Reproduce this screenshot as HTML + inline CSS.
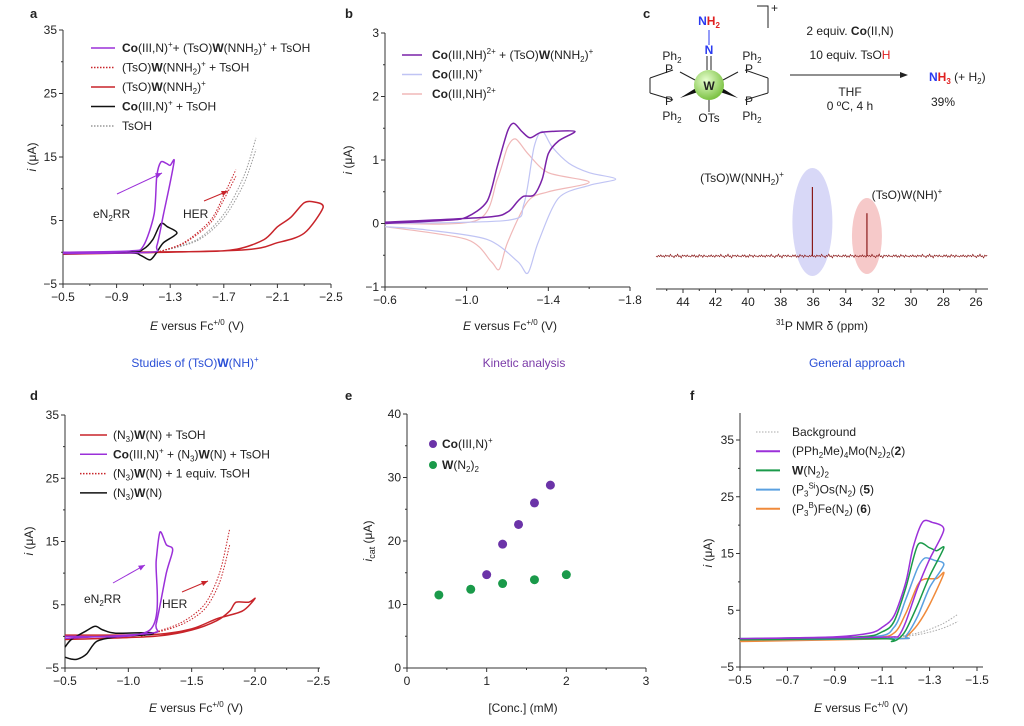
<!DOCTYPE html>
<html><head><meta charset="utf-8"><style>
body{margin:0;background:#fff}
svg{display:block;font-family:"Liberation Sans",sans-serif}
text{fill:#222}
.t{font-size:12px}
.lg{font-size:12px}
.pl{font-size:13px;font-weight:bold}
</style></head><body>
<svg id="fig" width="1024" height="726" viewBox="0 0 1024 726"></svg>
<script>
// ===== data arrays =====
const aPurpleE=[-0.5,-1.0,-1.1,-1.18,-1.2,-1.23,-1.27,-1.3,-1.33,-1.3,-1.25,-1.2,-1.15,-0.5];
const aPurpleI=[0,0.2,1,6,12,14.2,14,13.7,14.5,11,6,1,0,-0.2];
const aBlackE=[-0.5,-1.0,-1.1,-1.17,-1.23,-1.28,-1.35,-1.25,-1.2,-1.15,-1.08,-1.0,-0.5];
const aBlackI=[0,0,0.5,2,4.5,4,3,1.5,0,-1.2,-0.5,-0.1,-0.2];
const aRedE=[-0.5,-1.5,-1.8,-2.0,-2.1,-2.2,-2.3,-2.38,-2.44,-2.3,-2.1,-1.8,-0.5];
const aRedI=[0,0.1,0.5,2,4,5.5,7.8,7.9,7,3,1.5,0.3,-0.3];
const aHerE=[-1.2,-1.4,-1.6,-1.7,-1.79];
const aHerI=[0,1.5,5,9,13];
const aTsE=[-1.2,-1.5,-1.7,-1.85,-1.94];
const aTsI=[0,2,6,12,18];
const bPurpleE=[-0.6,-0.9,-1.0,-1.1,-1.15,-1.2,-1.23,-1.27,-1.31,-1.36,-1.42,-1.53,-1.45,-1.4,-1.37,-1.33,-1.28,-1.25,-1.2,-1.1,-0.6];
const bPurpleI=[0,0.05,0.1,0.35,0.9,1.45,1.58,1.45,1.35,1.43,1.45,1.45,1.3,1.1,0.7,0.45,0.43,0.35,0.18,0.1,0.02];
const bBlueE=[-0.6,-1.2,-1.28,-1.33,-1.37,-1.42,-1.5,-1.6,-1.73,-1.6,-1.45,-1.35,-1.3,-1.25,-1.1,-0.8,-0.6];
const bBlueI=[0,0.05,0.3,1.2,1.45,1.2,0.95,0.8,0.7,0.6,0.4,-0.3,-0.78,-0.6,-0.25,-0.1,-0.05];
const bPinkE=[-0.6,-1.05,-1.15,-1.2,-1.24,-1.3,-1.4,-1.6,-1.4,-1.3,-1.2,-1.16,-1.12,-1.0,-0.6];
const bPinkI=[0,0.05,0.7,1.2,1.33,1.1,0.8,0.65,0.5,0.35,-0.3,-0.72,-0.6,-0.25,-0.05];
const nmrPeakPpm=[36.05,32.7];
const nmrPeakH=[1.0,0.62];
const dPurpleE=[-0.5,-1.17,-1.22,-1.25,-1.3,-1.35,-1.3,-1.22,-1.18,-0.5];
const dPurpleI=[0,1,12,16.5,14.5,13.7,10,2,0.5,-0.3];
const dBlackE=[-0.5,-0.55,-0.6,-0.67,-0.75,-0.9,-1.17,-1.17,-0.9,-0.8,-0.74,-0.67,-0.55,-0.5];
const dBlackI=[-3.3,-3.6,-3.6,-2.8,-0.8,-0.1,0.3,0.6,0.5,1.0,1.6,0.9,-0.5,-1.7];
const dRedE=[-0.5,-1.2,-1.5,-1.7,-1.8,-1.85,-1.95,-2.0,-1.9,-1.7,-1.5,-1.2,-0.5];
const dRedI=[-0.5,0,1,2.5,4,5.4,5.4,6,4,2.8,1.2,0.3,0.2];
const dHerE=[-1.1,-1.4,-1.6,-1.72,-1.8];
const dHerI=[0,2,5,10,17];
const eCoConc=[1.0,1.2,1.4,1.6,1.8];
const eCoI=[14.7,19.5,22.6,26.0,28.8];
const eWConc=[0.4,0.8,1.2,1.6,2.0];
const eWI=[11.5,12.4,13.3,13.9,14.7];
const fPurpleE=[-0.5,-0.9,-1.05,-1.1,-1.15,-1.2,-1.23,-1.27,-1.31,-1.36,-1.3,-1.25,-1.2,-1.17,-1.15,-1.0,-0.5];
const fPurpleI=[0,0.3,1,2,4,10,16,20.5,20.5,19.2,14,9,3,0.5,0.3,0.2,0];
const fGreenE=[-0.5,-1.0,-1.1,-1.15,-1.2,-1.25,-1.3,-1.33,-1.36,-1.3,-1.25,-1.2,-1.17,-1.14,-1.1,-0.5];
const fGreenI=[0,0.3,1.2,3,9,16.5,16,15.5,16,11,6,1.5,0,-0.5,0,-0.2];
const fBlueE=[-0.5,-1.05,-1.15,-1.2,-1.25,-1.28,-1.32,-1.36,-1.3,-1.25,-1.2,-1.16,-0.5];
const fBlueI=[0,0.3,2,7,12.5,14.2,13.8,13,9,4,0.5,0,-0.2];
const fOrangeE=[-0.5,-1.05,-1.15,-1.2,-1.25,-1.28,-1.33,-1.36,-1.3,-1.25,-1.2,-1.16,-0.5];
const fOrangeI=[-0.3,0.2,1,4.5,9.5,10.5,10.6,11.5,6,2.5,0.3,0,-0.5];
const fBgE=[-1.1,-1.25,-1.35,-1.42];
const fBgI=[0,1,2.5,4.3];

const NS="http://www.w3.org/2000/svg";
const svg=document.getElementById('fig');
function el(tag,attrs,parent){const e=document.createElementNS(NS,tag);for(const k in attrs)e.setAttribute(k,attrs[k]);(parent||svg).appendChild(e);return e;}
function txt(x,y,html,cls,anchor,extra){const t=el('text',Object.assign({x:x,y:y,class:cls||'t','text-anchor':anchor||'start'},extra||{}));t.innerHTML=html;return t;}
function lin(x0,x1,d0,d1){return v=>x0+(v-d0)*(x1-x0)/(d1-d0);}
function curve(xs,ys,X,Y,stroke,w,dash,name){
 const P=xs.map((v,i)=>[X(v),Y(ys[i])]);const n=P.length;
 let d='M'+P[0][0].toFixed(1)+','+P[0][1].toFixed(1);
 for(let i=0;i<n-1;i++){const p0=P[Math.max(i-1,0)],p1=P[i],p2=P[i+1],p3=P[Math.min(i+2,n-1)];
  const c1=[p1[0]+(p2[0]-p0[0])/7,p1[1]+(p2[1]-p0[1])/7],c2=[p2[0]-(p3[0]-p1[0])/7,p2[1]-(p3[1]-p1[1])/7];
  d+='C'+c1.map(v=>v.toFixed(1)).join(',')+' '+c2.map(v=>v.toFixed(1)).join(',')+' '+p2[0].toFixed(1)+','+p2[1].toFixed(1);}
 const p=el('path',{d:d,fill:'none',stroke:stroke,'stroke-width':w,'stroke-dasharray':dash||'none','stroke-linejoin':'round'});
 
 return p;}
function axes(X,Y,xt,xl,yt,yl,x0,y0,xEnd,yTop,minor){
 el('line',{x1:x0,y1:y0,x2:x0,y2:yTop,stroke:'#333','stroke-width':1});
 el('line',{x1:x0,y1:y0,x2:xEnd,y2:y0,stroke:'#333','stroke-width':1});
 xt.forEach((v,i)=>{el('line',{x1:X(v),y1:y0,x2:X(v),y2:y0+4,stroke:'#333'});const t=txt(X(v),y0+17,xl[i],'t','middle');});
 yt.forEach((v,i)=>{el('line',{x1:x0,y1:Y(v),x2:x0-4,y2:Y(v),stroke:'#333'});const t=txt(x0-6,Y(v)+4,yl[i],'t','end');});
 if(minor){minor.x.forEach(v=>el('line',{x1:X(v),y1:y0,x2:X(v),y2:y0+2,stroke:'#333'}));minor.y.forEach(v=>el('line',{x1:x0,y1:Y(v),x2:x0-2,y2:Y(v),stroke:'#333'}));}
}
function legLine(x1,x2,y,stroke,dash,w){el('line',{x1:x1,y1:y,x2:x2,y2:y,stroke:stroke,'stroke-width':w||1.5,'stroke-dasharray':dash||'none'});}
function arrow(x1,y1,x2,y2,c){el('line',{x1:x1,y1:y1,x2:x2,y2:y2,stroke:c,'stroke-width':1});const a=Math.atan2(y2-y1,x2-x1);
 el('path',{d:`M${x2},${y2}L${x2-7*Math.cos(a-0.4)},${y2-7*Math.sin(a-0.4)}L${x2-7*Math.cos(a+0.4)},${y2-7*Math.sin(a+0.4)}Z`,fill:c});}
const PUR='#9b30d9',RED='#c8242a',BLK='#111';

// ===== Panel a =====
{const X=lin(63,331,-0.5,-2.5),Y=lin(284,30,-5,35);
 txt(30,18,'a','pl');
 axes(X,Y,[-0.5,-0.9,-1.3,-1.7,-2.1,-2.5],['−0.5','−0.9','−1.3','−1.7','−2.1','−2.5'],[-5,5,15,25,35],['−5','5','15','25','35'],63,284,331,30,{x:[-0.7,-1.1,-1.5,-1.9,-2.3],y:[0,10,20,30]});
 txt(197,330,'<tspan font-style="italic">E</tspan> versus Fc<tspan font-size="8" dy="-5">+/0</tspan><tspan dy="5"> (V)</tspan>','t','middle');
 txt(36,157,'<tspan font-style="italic">i</tspan> (μA)','t','middle',{transform:'rotate(-90 36 157)'});
 curve(aTsE,aTsI,X,Y,'#999',1,'1.5,1.5','tsoh-curve');
 curve(aTsE,aTsI.map(v=>v*0.9),X,Y,'#999',1,'1.5,1.5','tsoh-curve-2');
 curve(aHerE,aHerI,X,Y,RED,1,'1.5,1.5','her-curve');
 curve(aHerE,aHerI.map(v=>v*0.92),X,Y,RED,1,'1.5,1.5','her-curve-2');
 curve(aRedE,aRedI,X,Y,RED,1.5,null,'w-nnh2-curve');
 curve(aBlackE,aBlackI,X,Y,BLK,1.5,null,'co-tsoh-curve');
 curve(aPurpleE,aPurpleI,X,Y,PUR,1.5,null,'co-w-tsoh-curve');
 arrow(117,194,162,173,PUR);arrow(204,201,228,191,RED);
 txt(93,218,'eN<tspan font-size="8" dy="3">2</tspan><tspan dy="-3">RR</tspan>');txt(183,218,'HER');
 const L=[[PUR,null,'<tspan font-weight="bold">Co</tspan>(III,N)<tspan font-size="8" dy="-5">+</tspan><tspan dy="5">+ (TsO)</tspan><tspan font-weight="bold">W</tspan>(NNH<tspan font-size="8" dy="3">2</tspan><tspan dy="-3">)</tspan><tspan font-size="8" dy="-5">+</tspan><tspan dy="5"> + TsOH</tspan>'],
 [RED,'1.5,1.5','(TsO)<tspan font-weight="bold">W</tspan>(NNH<tspan font-size="8" dy="3">2</tspan><tspan dy="-3">)</tspan><tspan font-size="8" dy="-5">+</tspan><tspan dy="5"> + TsOH</tspan>'],
 [RED,null,'(TsO)<tspan font-weight="bold">W</tspan>(NNH<tspan font-size="8" dy="3">2</tspan><tspan dy="-3">)</tspan><tspan font-size="8" dy="-5">+</tspan>'],
 [BLK,null,'<tspan font-weight="bold">Co</tspan>(III,N)<tspan font-size="8" dy="-5">+</tspan><tspan dy="5"> + TsOH</tspan>'],
 ['#999','1.5,1.5','TsOH']];
 L.forEach((l,i)=>{const y=48+i*19.5;legLine(91,115,y,l[0],l[1]);const t=txt(122,y+4,l[2],'lg');});
 txt(195,367,'Studies of (TsO)<tspan font-weight="bold">W</tspan>(NH)<tspan font-size="8" dy="-5">+</tspan>','t','middle',{style:'fill:#2a4fd6'});
}
// ===== Panel b =====
{const X=lin(385,630,-0.6,-1.8),Y=lin(287,33,-1,3);
 txt(345,18,'b','pl');
 axes(X,Y,[-0.6,-1.0,-1.4,-1.8],['−0.6','−1.0','−1.4','−1.8'],[-1,0,1,2,3],['−1','0','1','2','3'],385,287,630,33,{x:[-0.8,-1.2,-1.6],y:[-0.5,0.5,1.5,2.5]});
 txt(510,330,'<tspan font-style="italic">E</tspan> versus Fc<tspan font-size="8" dy="-5">+/0</tspan><tspan dy="5"> (V)</tspan>','t','middle');
 txt(352,160,'<tspan font-style="italic">i</tspan> (μA)','t','middle',{transform:'rotate(-90 352 160)'});
 curve(bPinkE,bPinkI,X,Y,'#f0b8b8',1.2,null,'co-nh-curve');
 curve(bBlueE,bBlueI,X,Y,'#c0c4f4',1.2,null,'co-n-curve');
 curve(bPurpleE,bPurpleI,X,Y,'#7a22a8',1.5,null,'co-nh-w-curve');
 const L=[['#7a22a8','<tspan font-weight="bold">Co</tspan>(III,NH)<tspan font-size="8" dy="-5">2+</tspan><tspan dy="5"> + (TsO)</tspan><tspan font-weight="bold">W</tspan>(NNH<tspan font-size="8" dy="3">2</tspan><tspan dy="-3">)</tspan><tspan font-size="8" dy="-5">+</tspan>'],
 ['#c0c4f4','<tspan font-weight="bold">Co</tspan>(III,N)<tspan font-size="8" dy="-5">+</tspan>'],
 ['#f0b8b8','<tspan font-weight="bold">Co</tspan>(III,NH)<tspan font-size="8" dy="-5">2+</tspan>']];
 L.forEach((l,i)=>{const y=55+i*19.5;legLine(402,422,y,l[0]);const t=txt(432,y+4,l[1],'lg');});
 txt(524,367,'Kinetic analysis','t','middle',{style:'fill:#7a3aa8'});
}
// ===== Panel c =====
{txt(643,18,'c','pl');
 const g=el('g',{});
 const ln=(a,b,c,d,col,w)=>el('line',{x1:a,y1:b,x2:c,y2:d,stroke:col||'#222','stroke-width':w||1},g);
 ln(709,30,709,45,'#2a3af0');ln(707,56,707,70);ln(711,56,711,70);
 ln(709,100,709,112);
 ln(673,70,650,78);ln(650,78,650,93);ln(650,93,673,100);
 ln(745,70,768,78);ln(768,78,768,93);ln(768,93,745,100);
 el('path',{d:'M680,98 L696,88 L698,92 Z',fill:'#111'},g);el('path',{d:'M738,98 L722,88 L720,92 Z',fill:'#111'},g);
 ln(680,72,695,80,'#222',1);ln(738,72,723,80,'#222',1);
 const rg=el('radialGradient',{id:'wg',cx:'40%',cy:'35%',r:'65%'});el('stop',{offset:'0','stop-color':'#e8ffd0'},rg);el('stop',{offset:'1','stop-color':'#7cc243'},rg);
 el('circle',{cx:709,cy:85,r:15,fill:'url(#wg)'},g);
 txt(709,90,'W','t','middle',{'font-weight':'bold','font-size':'11'});
 txt(709,25,'<tspan style="fill:#2a3af0">N</tspan><tspan style="fill:#e02020">H<tspan font-size="8" dy="3">2</tspan></tspan>','t','middle',{'font-weight':'bold','font-size':'11'});
 txt(709,54,'N','t','middle',{'font-weight':'bold','font-size':'11',style:'fill:#2a3af0'});
 txt(673,73,'P','t','end',{'font-size':'11'});txt(745,73,'P','t','start',{'font-size':'11'});
 txt(673,105,'P','t','end',{'font-size':'11'});txt(745,105,'P','t','start',{'font-size':'11'});
 [[672,60],[752,60],[672,120],[752,120]].forEach(p=>txt(p[0],p[1],'Ph<tspan font-size="8" dy="3">2</tspan>','t','middle',{'font-size':'11'}));
 txt(709,122,'OTs','t','middle',{'font-size':'11'});
 el('path',{d:'M757,6 L768,6 L768,28',fill:'none',stroke:'#222'});txt(771,12,'+','t','start',{'font-size':'9'});
 txt(850,35,'2 equiv. <tspan font-weight="bold">Co</tspan>(II,N)','t','middle');
 txt(850,59,'10 equiv. TsO<tspan style="fill:#e02020">H</tspan>','t','middle');
 el('line',{x1:790,y1:75,x2:905,y2:75,stroke:'#222'});el('path',{d:'M908,75 L900,72 L900,78 Z',fill:'#222'});
 txt(850,96,'THF','t','middle');txt(850,110,'0 ºC, 4 h','t','middle');
 txt(929,81,'<tspan font-weight="bold" style="fill:#2a3af0">N</tspan><tspan font-weight="bold" style="fill:#e02020">H<tspan font-size="8" dy="3">3</tspan></tspan><tspan dy="-3"> (+ H</tspan><tspan font-size="8" dy="3">2</tspan><tspan dy="-3">)</tspan>');
 txt(931,106,'39%');
 const X=lin(683,976,44,26),base=256;
 el('ellipse',{cx:X(36.05),cy:222,rx:20,ry:54,fill:'#c8c8f4','fill-opacity':0.7});
 el('ellipse',{cx:X(32.7),cy:236,rx:15,ry:38,fill:'#f4bcbc','fill-opacity':0.8});
 const jit=[0,1.2,-0.8,0.5,-1.4,0.9,-0.3,1.5,-1.1,0.2,-0.6,1.0,-1.3,0.4];
 let d='M656,'+base;let k=0;for(let x=656;x<=988;x+=1.2){d+='L'+x.toFixed(1)+','+(base+jit[k%14]*(k%3===0?1.3:0.8)).toFixed(1);k++;}
 const nz=el('path',{d:d,fill:'none',stroke:'#8a1a1a','stroke-width':0.7});
 nmrPeakPpm.forEach((p,i)=>{const l=el('line',{x1:X(p),y1:base,x2:X(p),y2:base-nmrPeakH[i]*69,stroke:'#8a1a1a','stroke-width':1.2});});
 txt(742,182,'(TsO)W(NNH<tspan font-size="8" dy="3">2</tspan><tspan dy="-3">)</tspan><tspan font-size="8" dy="-5">+</tspan>','t','middle');
 txt(907,199,'(TsO)W(NH)<tspan font-size="8" dy="-5">+</tspan>','t','middle');
 el('line',{x1:656,y1:289,x2:988,y2:289,stroke:'#333'});
 [44,42,40,38,36,34,32,30,28,26].forEach(v=>{el('line',{x1:X(v),y1:289,x2:X(v),y2:293,stroke:'#333'});const t=txt(X(v),306,v,'t','middle');});
 [45,43,41,39,37,35,33,31,29,27].forEach(v=>el('line',{x1:X(v),y1:289,x2:X(v),y2:291,stroke:'#333'}));
 txt(822,330,'<tspan font-size="8" dy="-5">31</tspan><tspan dy="5">P NMR δ (ppm)</tspan>','t','middle');
 txt(857,367,'General approach','t','middle',{style:'fill:#2a4fd6'});
}
// ===== Panel d =====
{const X=lin(65,255,-0.5,-2.0),Y=lin(668,415,-5,35);
 txt(30,400,'d','pl');
 axes(X,Y,[-0.5,-1.0,-1.5,-2.0,-2.5],['−0.5','−1.0','−1.5','−2.0','−2.5'],[-5,5,15,25,35],['−5','5','15','25','35'],65,668,320,415,{x:[-0.75,-1.25,-1.75,-2.25],y:[0,10,20,30]});
 txt(196,712,'<tspan font-style="italic">E</tspan> versus Fc<tspan font-size="8" dy="-5">+/0</tspan><tspan dy="5"> (V)</tspan>','t','middle');
 txt(33,541,'<tspan font-style="italic">i</tspan> (μA)','t','middle',{transform:'rotate(-90 33 541)'});
 curve(dHerE,dHerI,X,Y,RED,1,'1.5,1.5','her-curve');
 curve(dHerE,dHerI.map(v=>v*0.85),X,Y,RED,1,'1.5,1.5','her-curve-2');
 curve(dRedE,dRedI,X,Y,RED,1.5,null,'w-tsoh-curve');
 curve(dBlackE,dBlackI,X,Y,BLK,1.5,null,'w-n-curve');
 curve(dPurpleE,dPurpleI,X,Y,PUR,1.5,null,'co-w-tsoh-curve');
 arrow(113,583,145,565,PUR);arrow(182,592,208,581,RED);
 txt(84,603,'eN<tspan font-size="8" dy="3">2</tspan><tspan dy="-3">RR</tspan>');txt(162,608,'HER');
 const L=[[RED,null,'(N<tspan font-size="8" dy="3">3</tspan><tspan dy="-3">)</tspan><tspan font-weight="bold">W</tspan>(N) + TsOH'],
 [PUR,null,'<tspan font-weight="bold">Co</tspan>(III,N)<tspan font-size="8" dy="-5">+</tspan><tspan dy="5"> + (N</tspan><tspan font-size="8" dy="3">3</tspan><tspan dy="-3">)</tspan><tspan font-weight="bold">W</tspan>(N) + TsOH'],
 [RED,'1.5,1.5','(N<tspan font-size="8" dy="3">3</tspan><tspan dy="-3">)</tspan><tspan font-weight="bold">W</tspan>(N) + 1 equiv. TsOH'],
 [BLK,null,'(N<tspan font-size="8" dy="3">3</tspan><tspan dy="-3">)</tspan><tspan font-weight="bold">W</tspan>(N)']];
 L.forEach((l,i)=>{const y=435+i*19.3;legLine(80,107,y,l[0],l[1]);const t=txt(113,y+4,l[2],'lg');});
}
// ===== Panel e =====
{const X=lin(407,646,0,3),Y=lin(668,414,0,40);
 txt(345,400,'e','pl');
 axes(X,Y,[0,1,2,3],['0','1','2','3'],[0,10,20,30,40],['0','10','20','30','40'],407,668,646,414,{x:[0.5,1.5,2.5],y:[5,15,25,35]});
 txt(523,712,'[Conc.] (mM)','t','middle');
 txt(372,541,'<tspan font-style="italic">i</tspan><tspan font-size="9" dy="3">cat</tspan><tspan dy="-3"> (μA)</tspan>','t','middle',{transform:'rotate(-90 372 541)'});
 eCoConc.forEach((c,i)=>{const p=el('circle',{cx:X(c),cy:Y(eCoI[i]),r:4.5,fill:'#6b33a8'});});
 eWConc.forEach((c,i)=>{const p=el('circle',{cx:X(c),cy:Y(eWI[i]),r:4.5,fill:'#1a9a4a'});});
 el('circle',{cx:433,cy:444,r:4,fill:'#6b33a8'});el('circle',{cx:433,cy:465,r:4,fill:'#1a9a4a'});
 txt(442,448,'<tspan font-weight="bold">Co</tspan>(III,N)<tspan font-size="8" dy="-5">+</tspan>','lg');
 txt(442,469,'<tspan font-weight="bold">W</tspan>(N<tspan font-size="8" dy="3">2</tspan><tspan dy="-3">)</tspan><tspan font-size="8" dy="3">2</tspan>','lg');
}
// ===== Panel f =====
{const X=lin(740,977,-0.5,-1.5),Y=lin(667,440,-5,35);
 txt(690,400,'f','pl');
 el('line',{x1:740,y1:667,x2:740,y2:413,stroke:'#333'});
 axes(X,Y,[-0.5,-0.7,-0.9,-1.1,-1.3,-1.5],['−0.5','−0.7','−0.9','−1.1','−1.3','−1.5'],[-5,5,15,25,35],['−5','5','15','25','35'],740,667,983,413,{x:[-0.6,-0.8,-1.0,-1.2,-1.4],y:[0,10,20,30]});
 txt(861,712,'<tspan font-style="italic">E</tspan> versus Fc<tspan font-size="8" dy="-5">+/0</tspan><tspan dy="5"> (V)</tspan>','t','middle');
 txt(712,553,'<tspan font-style="italic">i</tspan> (μA)','t','middle',{transform:'rotate(-90 712 553)'});
 curve(fBgE,fBgI,X,Y,'#aaa',1,'1.5,1.5','background-curve');
 curve(fBgE,fBgI.map(v=>v*0.7),X,Y,'#aaa',1,'1.5,1.5','background-curve-2');
 curve(fOrangeE,fOrangeI,X,Y,'#f08a3a',1.5,null,'fe-curve');
 curve(fBlueE,fBlueI,X,Y,'#5aa0e0',1.5,null,'os-curve');
 curve(fGreenE,fGreenI,X,Y,'#1a9a4a',1.5,null,'w-curve');
 curve(fPurpleE,fPurpleI,X,Y,PUR,1.5,null,'mo-curve');
 const L=[['#aaa','1.5,1.5','Background'],
 [PUR,null,'(PPh<tspan font-size="8" dy="3">2</tspan><tspan dy="-3">Me)</tspan><tspan font-size="8" dy="3">4</tspan><tspan dy="-3">Mo(N</tspan><tspan font-size="8" dy="3">2</tspan><tspan dy="-3">)</tspan><tspan font-size="8" dy="3">2</tspan><tspan dy="-3">(</tspan><tspan font-weight="bold">2</tspan>)'],
 ['#1a9a4a',null,'<tspan font-weight="bold">W</tspan>(N<tspan font-size="8" dy="3">2</tspan><tspan dy="-3">)</tspan><tspan font-size="8" dy="3">2</tspan>'],
 ['#5aa0e0',null,'(P<tspan font-size="8" dy="3">3</tspan><tspan font-size="8" dy="-8">Si</tspan><tspan dy="5">)Os(N</tspan><tspan font-size="8" dy="3">2</tspan><tspan dy="-3">) (</tspan><tspan font-weight="bold">5</tspan>)'],
 ['#f08a3a',null,'(P<tspan font-size="8" dy="3">3</tspan><tspan font-size="8" dy="-8">B</tspan><tspan dy="5">)Fe(N</tspan><tspan font-size="8" dy="3">2</tspan><tspan dy="-3">) (</tspan><tspan font-weight="bold">6</tspan>)']];
 L.forEach((l,i)=>{const y=432+i*19.2;legLine(756,780,y,l[0],l[1],l[1]?1:2);const t=txt(792,y+4,l[2],'lg');});
}
</script>
</body></html>
